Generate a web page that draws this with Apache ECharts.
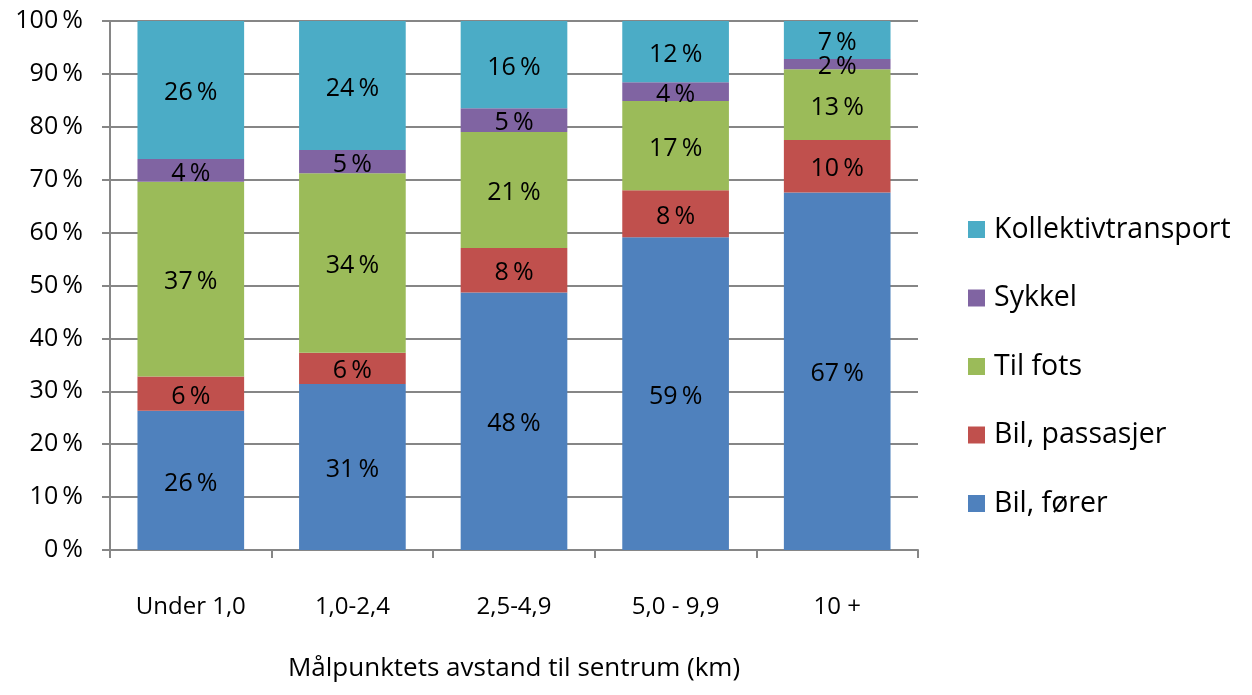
<!DOCTYPE html>
<html>
<head>
<meta charset="utf-8">
<script src="https://cdn.jsdelivr.net/npm/echarts@6/dist/echarts.min.js"></script>
<style>
html, body { margin: 0; padding: 0; background: #fff; }
#chart { width: 1252px; height: 695px; }
</style>
</head>
<body>
<div id="chart"></div>
<script>
// kategorier (avstand til sentrum)
const categories = ['Under 1,0', '1,0-2,4', '2,5-4,9', '5,0 - 9,9', '10 +']

// stolpehøyder lest av bildet (%)
const bilForer      = [26.3, 31.4, 48.7, 59.1, 67.6]
const bilPassasjer  = [6.5, 5.9, 8.4, 8.9, 9.9]
const tilFots       = [36.8, 33.9, 21.9, 16.9, 13.4]
const sykkel        = [4.3, 4.4, 4.5, 3.5, 1.9]
const kollektiv     = [26.1, 24.4, 16.5, 11.6, 7.2]

// dataetiketter slik de står i figuren
const bilForerLbl     = [26, 31, 48, 59, 67]
const bilPassasjerLbl = [6, 6, 8, 8, 10]
const tilFotsLbl      = [37, 34, 21, 17, 13]
const sykkelLbl       = [4, 5, 5, 4, 2]
const kollektivLbl    = [26, 24, 16, 12, 7]

const yTicks = [0, 10, 20, 30, 40, 50, 60, 70, 80, 90, 100]

const FONT = '"Open Sans", sans-serif'
const PCT = '\u2009%'

function makeSeries (name, data, labels, color) {
  return {
    name: name,
    type: 'bar',
    stack: 'total',
    barWidth: '66%',
    data: data,
    itemStyle: { color: color },
    label: {
      show: true,
      position: 'inside',
      offset: [0, 3],
      color: '#000',
      fontFamily: FONT,
      fontSize: 25,
      formatter: function (p) { return labels[p.dataIndex] + PCT }
    }
  }
}

let myChart = echarts.init(document.getElementById('chart'))
let option = {
  animation: false,
  backgroundColor: '#fff',
  grid: { left: 110, right: 334, top: 21, bottom: 145 },
  legend: {
    orient: 'vertical',
    left: 963,
    top: 210,
    itemWidth: 17,
    itemHeight: 17,
    itemGap: 39.5,
    icon: 'rect',
    textStyle: { fontFamily: FONT, fontSize: 28.5, lineHeight: 28, color: '#000', padding: [0, 0, 0, 4] },
    data: ['Kollektivtransport', 'Sykkel', 'Til fots', 'Bil, passasjer', 'Bil, fører']
  },
  xAxis: {
    type: 'category',
    data: categories,
    name: 'Målpunktets avstand til sentrum (km)',
    nameLocation: 'middle',
    nameGap: 106,
    nameTextStyle: { fontFamily: FONT, fontSize: 26, color: '#000' },
    axisLine: { lineStyle: { color: '#868686', width: 2 } },
    axisTick: { show: true, length: 8, lineStyle: { color: '#868686', width: 2 } },
    axisLabel: { margin: 45, fontFamily: FONT, fontSize: 24, color: '#000' }
  },
  yAxis: {
    type: 'value',
    min: 0,
    max: 100,
    interval: 10,
    axisLine: { show: true, lineStyle: { color: '#868686', width: 2 } },
    axisTick: { show: true, length: 8, lineStyle: { color: '#868686', width: 2 } },
    splitLine: { lineStyle: { color: '#868686', width: 2 } },
    axisLabel: {
      margin: 27,
      fontFamily: FONT,
      fontSize: 25,
      color: '#000',
      formatter: function (v) { return yTicks.indexOf(v) >= 0 ? v + PCT : '' }
    }
  },
  series: [
    makeSeries('Bil, fører', bilForer, bilForerLbl, '#4F81BD'),
    makeSeries('Bil, passasjer', bilPassasjer, bilPassasjerLbl, '#C0504D'),
    makeSeries('Til fots', tilFots, tilFotsLbl, '#9BBB59'),
    makeSeries('Sykkel', sykkel, sykkelLbl, '#8064A2'),
    makeSeries('Kollektivtransport', kollektiv, kollektivLbl, '#4BACC6')
  ]
}
myChart.setOption(option)
</script>
</body>
</html>
